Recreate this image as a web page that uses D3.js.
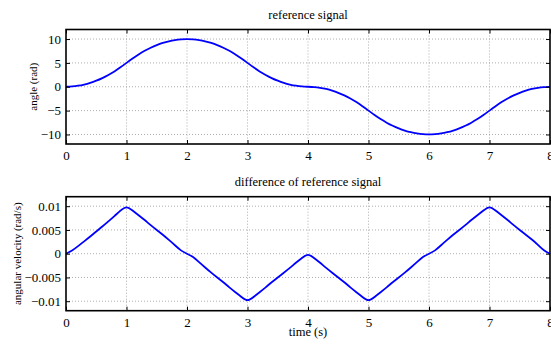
<!DOCTYPE html>
<html><head><meta charset="utf-8">
<script src="https://cdn.jsdelivr.net/npm/d3@7"></script>
<style>body{margin:0;background:#fff}svg{display:block}svg text{font-family:"Liberation Serif","Times New Roman",Times,"DejaVu Serif",serif !important;fill:#000}</style>
</head><body><svg id="c" width="551" height="345"></svg>
<script>
const time = [0,0.1,0.2,0.3,0.4,0.5,0.6,0.7,0.8,0.9,1,1.1,1.2,1.3,1.4,1.5,1.6,1.7,1.8,1.9,2,2.1,2.2,2.3,2.4,2.5,2.6,2.7,2.8,2.9,3,3.1,3.2,3.3,3.4,3.5,3.6,3.7,3.8,3.9,4,4.1,4.2,4.3,4.4,4.5,4.6,4.7,4.8,4.9,5,5.1,5.2,5.3,5.4,5.5,5.6,5.7,5.8,5.9,6,6.1,6.2,6.3,6.4,6.5,6.6,6.7,6.8,6.9,7,7.1,7.2,7.3,7.4,7.5,7.6,7.7,7.8,7.9,8];
const angle = [0,0.05,0.2,0.45,0.8,1.25,1.8,2.45,3.2,4.05,5,5.95,6.8,7.55,8.2,8.75,9.2,9.55,9.8,9.95,10,
 9.95,9.8,9.55,9.2,8.75,8.2,7.55,6.8,5.95,5,4.05,3.2,2.45,1.8,1.25,0.8,0.45,0.2,0.05,0,
 -0.05,-0.2,-0.45,-0.8,-1.25,-1.8,-2.45,-3.2,-4.05,-5,-5.95,-6.8,-7.55,-8.2,-8.75,-9.2,-9.55,-9.8,-9.95,-10,
 -9.95,-9.8,-9.55,-9.2,-8.75,-8.2,-7.55,-6.8,-5.95,-5,-4.05,-3.2,-2.45,-1.8,-1.25,-0.8,-0.45,-0.2,-0.05,0];
const velocity = [0,0.0006,0.0016,0.0026,0.0036,0.0047,0.0057,0.0068,0.0079,0.0091,0.0101,
 0.0091,0.0081,0.0071,0.0060,0.0050,0.0040,0.0029,0.0018,0.0006,0.0000,
 -0.0006,-0.0018,-0.0029,-0.0040,-0.0050,-0.0060,-0.0071,-0.0081,-0.0091,-0.0101,
 -0.0091,-0.0081,-0.0071,-0.0060,-0.0050,-0.0040,-0.0030,-0.0019,-0.0009,0.0001,
 -0.0009,-0.0019,-0.0030,-0.0040,-0.0050,-0.0060,-0.0071,-0.0081,-0.0091,-0.0101,
 -0.0091,-0.0081,-0.0071,-0.0060,-0.0050,-0.0040,-0.0029,-0.0018,-0.0006,0.0000,
 0.0006,0.0018,0.0029,0.0040,0.0050,0.0060,0.0071,0.0081,0.0091,0.0101,
 0.0091,0.0081,0.0071,0.0060,0.0050,0.0040,0.0030,0.0019,0.0006,0.0000];
const xTicks = [0,1,2,3,4,5,6,7,8];
const angleTicks = [-10,-5,0,5,10];
const velTicks = [-0.01,-0.005,0,0.005,0.01];
const titles = ["reference signal","difference of reference signal"];
const yLabels = ["angle (rad)","angular velocity (rad/s)"];
const xLabel = "time (s)";

const svg = d3.select("#c");
const L = 66, R = 550;
const FF = '"Liberation Serif","Times New Roman",Times,serif';
const fmt = v => String(v).replace("-", "\u2212");

function panel(top, bottom, ydom, yticks, ys, title, ylabel, ylabX, showXLabel) {
  const x = d3.scaleLinear().domain([0,8]).range([L,R]);
  const y = d3.scaleLinear().domain(ydom).range([bottom,top]);
  const g = svg.append("g").attr("font-family", FF);
  g.selectAll(".gx").data(xTicks.slice(1,-1)).join("line")
    .attr("x1",d=>x(d)).attr("x2",d=>x(d)).attr("y1",top).attr("y2",bottom)
    .attr("stroke","#999").attr("stroke-width",0.8).attr("stroke-dasharray","1,2");
  g.selectAll(".gy").data(yticks).join("line")
    .attr("x1",L).attr("x2",R).attr("y1",d=>y(d)).attr("y2",d=>y(d))
    .attr("stroke","#999").attr("stroke-width",0.8).attr("stroke-dasharray","1,2");
  const line = d3.line().x((d,i)=>x(time[i])).y(d=>y(d)).curve(d3.curveBasis);
  g.append("path").datum(ys).attr("d",line).attr("fill","none")
    .attr("stroke","#0000ff").attr("stroke-width",1.8);
  const tl = 4;
  const ax = g.append("g").attr("transform",`translate(0,${bottom})`)
    .call(d3.axisBottom(x).tickValues(xTicks).tickSizeInner(-tl).tickSizeOuter(0).tickPadding(7).tickFormat(fmt));
  const axT = g.append("g").attr("transform",`translate(0,${top})`)
    .call(d3.axisTop(x).tickValues(xTicks).tickSizeInner(-tl).tickSizeOuter(0).tickFormat(""));
  const ay = g.append("g").attr("transform",`translate(${L},0)`)
    .call(d3.axisLeft(y).tickValues(yticks).tickSizeInner(-tl).tickSizeOuter(0).tickPadding(5).tickFormat(fmt));
  const ayR = g.append("g").attr("transform",`translate(${R},0)`)
    .call(d3.axisRight(y).tickValues(yticks).tickSizeInner(-tl).tickSizeOuter(0).tickFormat(""));
  [ax,axT,ay,ayR].forEach(a=>{
    a.attr("font-family", FF).attr("font-size", 13);
    a.select(".domain").remove();
    a.selectAll(".tick line").attr("stroke","#000").attr("stroke-width",1);
    a.selectAll("text").attr("fill","#000");
  });
  g.append("rect").attr("x",L).attr("y",top).attr("width",R-L).attr("height",bottom-top)
    .attr("fill","none").attr("stroke","#000").attr("stroke-width",1.6);
  g.append("text").attr("x",(L+R)/2).attr("y",top-11).attr("text-anchor","middle")
    .attr("font-size",12.5).text(title);
  g.append("text").attr("transform",`translate(${ylabX},${(top+bottom)/2}) rotate(-90)`)
    .attr("text-anchor","middle").attr("font-size",11).text(ylabel);
  if (showXLabel) g.append("text").attr("x",(L+R)/2).attr("y",bottom+25.5).attr("text-anchor","middle")
    .attr("font-size",12.5).text(xLabel);
}
panel(29.5, 144, [-12,12], angleTicks, angle, titles[0], yLabels[0], 37, false);
panel(196.7, 310.7, [-0.012,0.012], velTicks, velocity, titles[1], yLabels[1], 21, true);
</script></body></html>
